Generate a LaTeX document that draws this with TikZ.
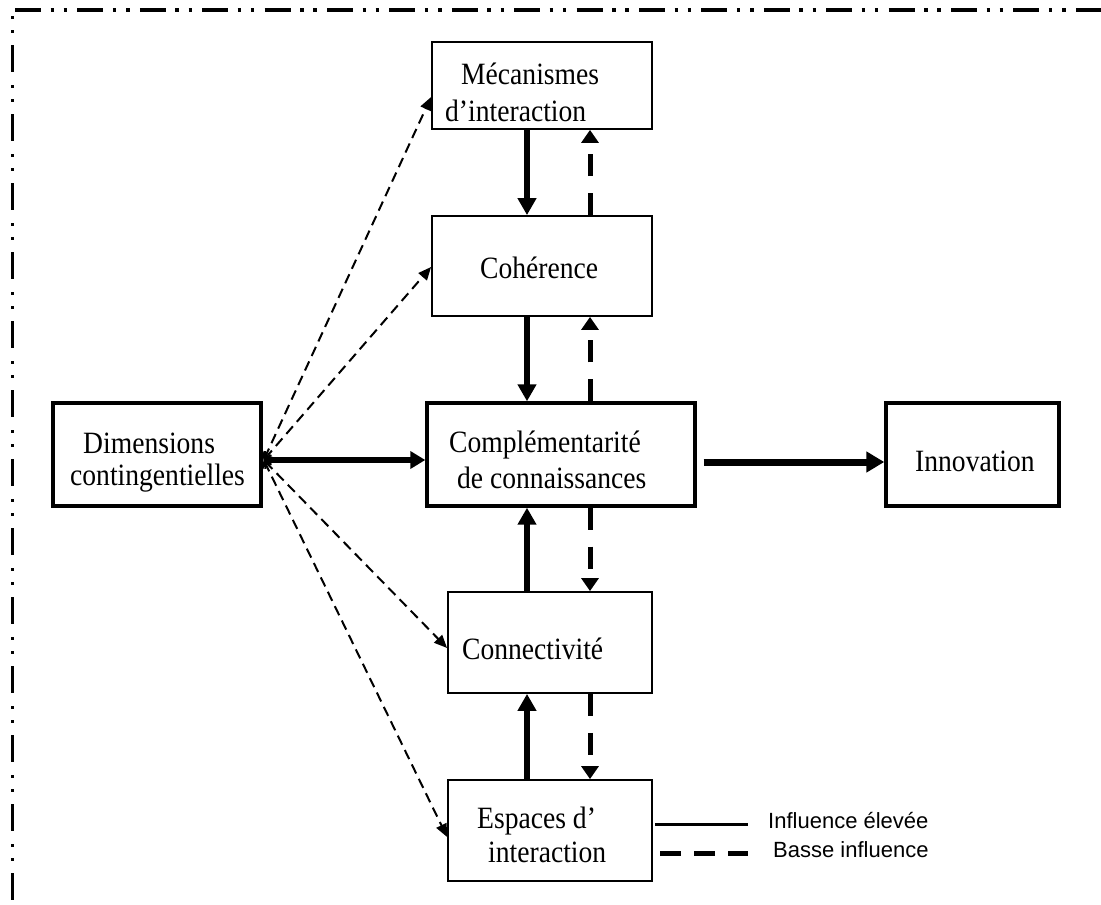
\documentclass[tikz,border=0pt]{standalone}
\usepackage{fontspec}
\setmainfont{Liberation Serif}[FakeStretch=0.89]
\newfontfamily\legendfont{Liberation Sans}
\usetikzlibrary{arrows.meta,calc}
\begin{document}
\begin{tikzpicture}[x=1pt,y=-1pt,
  box/.style={draw,rectangle,inner sep=0pt,line width=1.8pt},
  keybox/.style={box,line width=3.4pt},
  lbl/.style={anchor=base west,inner sep=0pt,font=\fontsize{31}{33}\selectfont},
  keytext/.style={anchor=base west,inner sep=0pt,font=\legendfont\fontsize{22}{24}\selectfont},
  strong/.style={line width=5.5pt,-{Triangle[length=17pt,width=18pt]}},
  weak/.style={line width=5pt,dash pattern=on 22pt off 17pt,-{Triangle[length=13pt,width=17pt]}},
  link/.style={line width=2pt,dash pattern=on 10pt off 6pt,
    {Straight Barb[length=6pt,width=10pt]}-{Triangle[length=13pt,width=11pt]}}
]
\useasboundingbox (0,0) rectangle (1101,905);

% outer frame (top and left edges)
\coordinate (ftl) at (15,10);
\coordinate (ftr) at (1101,10);
\coordinate (flt) at (12,16);
\coordinate (flb) at (12,905);
\draw[line width=4pt,dash pattern=on 26pt off 9.5pt on 3.5pt off 9.7pt on 3.5pt off 10.2pt] (ftl) -- (ftr);
\draw[line width=3pt,dash pattern=on 3pt off 11pt on 3pt off 12pt on 27pt off 13pt] (flt) -- (flb);

% boxes
\node[box,minimum width=220pt,minimum height=87pt] (mec) at (542,85.5) {};
\node[box,minimum width=220pt,minimum height=100pt] (coh) at (542,266) {};
\node[keybox,minimum width=268pt,minimum height=103pt] (comp) at (561,454.5) {};
\node[keybox,minimum width=208pt,minimum height=103pt] (dim) at (157,454.5) {};
\node[keybox,minimum width=173pt,minimum height=103pt] (inno) at (972.5,454.5) {};
\node[box,minimum width=204pt,minimum height=101pt] (conn) at (550,642.5) {};
\node[box,minimum width=204pt,minimum height=101pt] (esp) at (550,830.5) {};

% box texts
\node[lbl] (mecA) at (461,84) {Mécanismes};
\node[lbl] (mecB) at (445,121) {d’interaction};
\node[lbl] (cohT) at (480,278) {Cohérence};
\node[lbl] (compA) at (449,452) {Complémentarité};
\node[lbl] (compB) at (457,488) {de connaissances};
\node[lbl] (dimA) at (83,453) {Dimensions};
\node[lbl] (dimB) at (70,485) {contingentielles};
\node[lbl] (innoT) at (915,471) {Innovation};
\node[lbl] (connT) at (462,659) {Connectivité};
\node[lbl] (espA) at (477,828) {Espaces d’};
\node[lbl] (espB) at (488,862) {interaction};

% vertical links of the central column
\coordinate (colA) at (527,0);
\coordinate (colB) at (590,0);
\draw[strong] (mec.south -| colA) -- (coh.north -| colA);
\draw[weak] (coh.north -| colB) -- (mec.south -| colB);
\draw[strong] (coh.south -| colA) -- (comp.north -| colA);
\draw[weak] (comp.north -| colB) -- (coh.south -| colB);
\draw[strong] (conn.north -| colA) -- (comp.south -| colA);
\draw[weak] (comp.south -| colB) -- (conn.north -| colB);
\draw[strong] (esp.north -| colA) -- (conn.south -| colA);
\draw[weak] (conn.south -| colB) -- (esp.north -| colB);

% horizontal links
\coordinate (hub) at ($(dim.east)+(1,5.5)$);
\draw[line width=6pt,-{Triangle[length=15pt,width=17pt]}] (hub) -- (comp.west |- hub);
\coordinate (out) at ($(comp.east)+(7,7.5)$);
\draw[line width=7pt,-{Triangle[length=18pt,width=20pt]}] (out) -- (inno.west |- out);

% contingent dimensions towards each factor
\draw[link] (hub) -- ($(mec.west)+(0,11.5)$);
\draw[link] (hub) -- ($(coh.west)+(0,1)$);
\draw[link] (hub) -- ($(conn.west)+(0,5.5)$);
\draw[link] (hub) -- ($(esp.west)+(0,6.5)$);

% legend
\coordinate (k1a) at (655,824);
\coordinate (k1b) at (748,824);
\coordinate (k2a) at (660,853);
\coordinate (k2b) at (748,853);
\draw[line width=3pt] (k1a) -- (k1b);
\draw[line width=5pt,dash pattern=on 21pt off 13pt] (k2a) -- (k2b);
\node[keytext] (keyA) at (768,828) {Influence élevée};
\node[keytext] (keyB) at (773,857) {Basse influence};
\end{tikzpicture}
\end{document}
